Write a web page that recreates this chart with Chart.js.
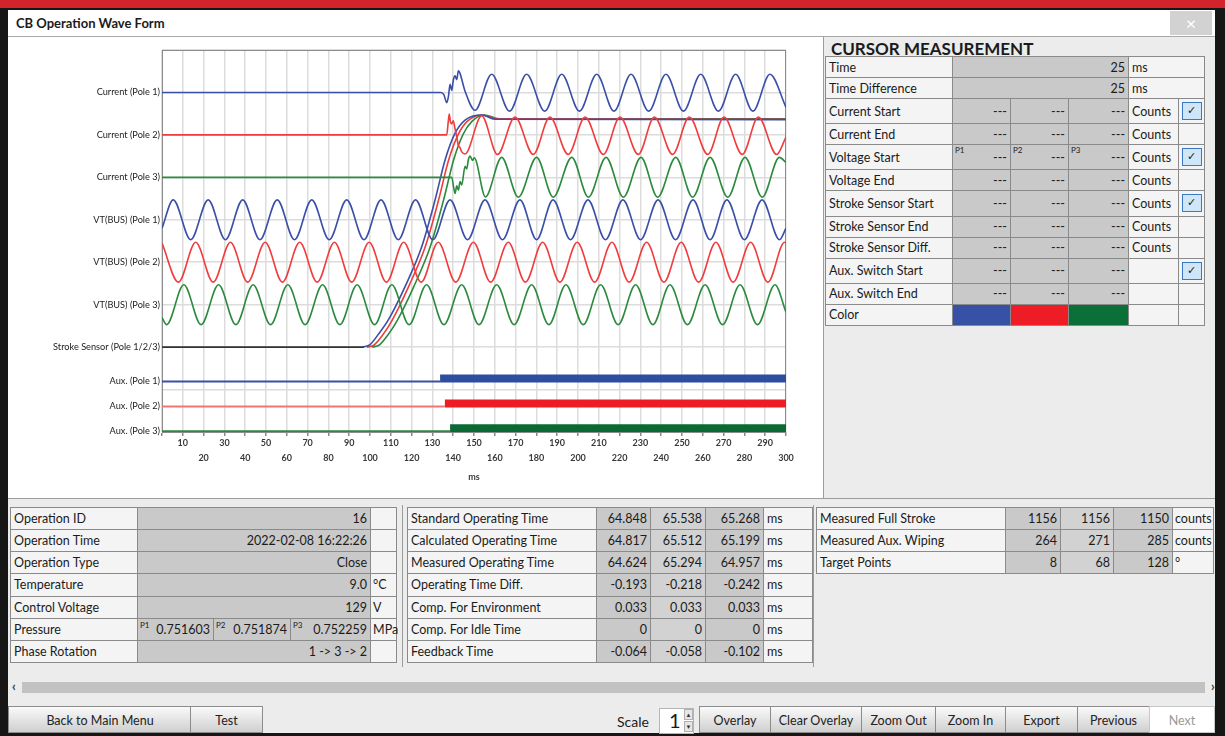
<!DOCTYPE html>
<html>
<head>
<meta charset="utf-8">
<title>CB Operation Wave Form</title>
<script src="https://cdn.jsdelivr.net/npm/chart.js@4.4.1/dist/chart.umd.min.js"></script>
<style>
  body { margin: 0; width: 1225px; height: 736px; overflow: hidden; background: #161616; position: relative;
         font-family: Lato, "Liberation Sans", sans-serif; color: #1b1b1b; }
  .abs { position: absolute; }
  #band { left: 0; top: 0; width: 1225px; height: 8px; background: #d3242b; }
  #win { left: 8px; top: 10px; width: 1207px; height: 723px; background: #ececec; }
  #titlebar { left: 8px; top: 10px; width: 1207px; height: 26px; background: #fff; border-bottom: 1px solid #a9a9a9; }
  #title { left: 16px; top: 15px; font-weight: bold; font-size: 13px; }
  #close { left: 1170px; top: 11px; width: 42px; height: 24px; background: #d2d2d2; color: #fff; font-size: 18px; text-align: center; line-height: 24px; }
  #plotPanel { left: 8px; top: 37px; width: 815px; height: 461px; background: #fff; }
  #vsep { left: 823px; top: 37px; width: 1px; height: 461px; background: #9c9c9c; }
  #hsep { left: 8px; top: 498px; width: 1207px; height: 1px; background: #9c9c9c; }
  #cursorTitle { left: 831px; top: 38px; font-weight: bold; font-size: 17px; }
  table { position: absolute; border-collapse: collapse; table-layout: fixed; font-size: 12.5px; color: #1b1b1b; }
  td { border: 1px solid #8a8a8a; padding: 0 3px; white-space: nowrap; overflow: hidden; background: #f4f4f4; position: relative; }
  td.v { background: #c9c9c9; text-align: right; }
  td.w { background: #d2d2d2; text-align: right; }
  td.c { padding: 0; }
  td.u { padding: 0 0 0 2px; overflow: visible; }
  .p { position: absolute; left: 2px; top: 0px; font-size: 8px; }
  .chk { display: block; width: 18px; height: 16px; margin: 0 auto; background: #cfe6f8; border: 1px solid #3b78c4;
         font: 11px "DejaVu Sans"; text-align: center; line-height: 16px; color: #222; }
  .vsep2 { width: 1px; background: #9c9c9c; top: 505px; height: 162px; }
  #strack { left: 22px; top: 682px; width: 1183px; height: 11px; background: #c2c2c2; }
  .arrow { top: 678px; font-size: 13px; font-weight: bold; color: #333; }
  .btn { top: 706px; height: 27px; background: linear-gradient(#fafafa, #cfcfcf); border: 1px solid #8c8c8c; box-sizing: border-box;
         font-size: 12.5px; text-align: center; line-height: 27px; color: #222; }
  #scaleLbl { left: 617px; top: 713px; font-size: 14px; }
  #spin { left: 659px; top: 708px; width: 35px; height: 26px; background: #fff; border: 1px solid #b5b5b5; box-sizing: border-box; }
  #spinVal { left: 669px; top: 708px; font-size: 20px; }
  .spinArr { left: 684px; width: 9px; height: 11px; background: #e6e6e6; border: 1px solid #b0b0b0; box-sizing: border-box;
             font-size: 6px; line-height: 9px; text-align: center; color: #333; }
</style>
</head>
<body>
<div class="abs" id="band"></div>
<div class="abs" id="win"></div>
<div class="abs" id="titlebar"></div>
<div class="abs" id="title">CB Operation Wave Form</div>
<div class="abs" id="close">×</div>
<div class="abs" id="plotPanel"><canvas id="wave" width="814" height="460"></canvas></div>
<div class="abs" id="vsep"></div>
<div class="abs" id="hsep"></div>
<div class="abs" id="cursorTitle">CURSOR MEASUREMENT</div>
<table id="cursorTable" style="left:825px; top:56px; width:379px; height:270px;"></table>
<table id="opTable" style="left:10px; top:507px; width:386px; height:156px;"></table>
<div class="abs vsep2" style="left:402px;"></div>
<table id="timingTable" style="left:407px; top:507px; width:405px; height:156px;"></table>
<div class="abs vsep2" style="left:813px;"></div>
<table id="strokeTable" style="left:816px; top:507px; width:397px; height:67px;"></table>
<div class="abs" id="strack"></div>
<div class="abs arrow" style="left:12px;">‹</div>
<div class="abs arrow" style="left:1211px;">›</div>
<div id="buttons"></div>
<div class="abs" id="scaleLbl">Scale</div>
<div class="abs" id="spin"></div>
<div class="abs" id="spinVal">1</div>
<div class="abs spinArr" style="top:709px;">▲</div>
<div class="abs spinArr" style="top:721px;">▼</div>

<script>
// y axis channels (top to bottom) and the level each one sits on
const channelNames = ['Current (Pole 1)', 'Current (Pole 2)', 'Current (Pole 3)',
    'VT(BUS) (Pole 1)', 'VT(BUS) (Pole 2)', 'VT(BUS) (Pole 3)',
    'Stroke Sensor (Pole 1/2/3)', 'Aux. (Pole 1)', 'Aux. (Pole 2)', 'Aux. (Pole 3)'];
const channelLevels = [8, 7, 6, 5, 4, 3, 2, 1.19, 0.6, 0.02];

// [ms, deviation from channel level]
const current1 = [[0, 0], [134.1, 0], [135.5, -0.05], [136.9, -0.24], [137.7, -0.1], [138.5, 0.19], [139.3, 0.05], [140.1, 0.3],
    [140.9, 0.39], [141.7, 0.3], [142.5, 0.51], [143.3, 0.45], [144.1, 0.31], [145.7, 0.03], [150.5, -0.42], [158.5, 0.43],
    [167.1, -0.44], [175.3, 0.43], [184, -0.44], [192.2, 0.43], [200.7, -0.44], [209, 0.43], [217.3, -0.44], [225.5, 0.43],
    [234, -0.44], [242.3, 0.43], [250.7, -0.44], [259, 0.43], [267.5, -0.44], [275.8, 0.43], [284.1, -0.44], [292.3, 0.43],
    [300, -0.35]];
const current2 = [[0, 0], [136.9, 0], [137.6, 0.3], [138.1, 0.49], [138.7, 0.3], [139.3, 0.26], [140, 0.33], [140.9, 0.14],
    [141.7, -0.05], [142.5, -0.25], [143.3, -0.3], [144.1, -0.4], [145.7, -0.45], [153.7, 0.45], [161.3, -0.46], [169.7, 0.42],
    [178.5, -0.46], [186.5, 0.42], [195.3, -0.46], [203.4, 0.42], [212.2, -0.46], [220.2, 0.42], [229, -0.46], [236.7, 0.42],
    [245.5, -0.46], [253.5, 0.42], [262.4, -0.46], [270.2, 0.42], [279, -0.46], [286.7, 0.42], [295.5, -0.46], [300, -0.05]];
const current3 = [[0, 0], [139.3, 0], [140.1, -0.2], [140.9, -0.38], [141.7, -0.2], [142.5, -0.3], [143.3, -0.1], [144.1, -0.18],
    [145.7, 0.26], [146.5, 0.2], [147.3, 0.42], [148.1, 0.5], [149.3, 0.4], [150.1, 0.46], [155.5, -0.46], [163.3, 0.47],
    [171.3, -0.47], [180.1, 0.47], [188.1, -0.47], [197, 0.47], [205, -0.47], [213.5, 0.47], [221.8, -0.47], [230.3, 0.47],
    [238.3, -0.47], [247, 0.47], [255.1, -0.47], [263.5, 0.47], [272, -0.47], [280.3, 0.47], [288.6, -0.47], [296.8, 0.47],
    [300, 0.35]];
const vt1 = [[0, -0.2], [5.4, 0.47], [13.8, -0.47], [22.2, 0.47], [30.5, -0.47], [38.8, 0.47], [47.1, -0.47], [55.4, 0.47],
    [63.7, -0.47], [72, 0.47], [80.4, -0.47], [88.8, 0.47], [97.1, -0.47], [105.3, 0.47], [113.6, -0.47], [121.9, 0.47],
    [130.2, -0.47], [138.5, 0.47], [146.9, -0.47], [155.3, 0.47], [163.7, -0.47], [172.1, 0.47], [180.1, -0.47], [188, 0.47],
    [196.4, -0.47], [204.8, 0.47], [213.2, -0.47], [221.6, 0.47], [230.1, -0.47], [238.5, 0.47], [246.9, -0.47], [255.3, 0.47],
    [263.5, -0.47], [271.6, 0.47], [280, -0.47], [288.5, 0.47], [296.9, -0.47], [300, -0.2]];
const vt2 = [[0, 0.45], [7.9, -0.47], [16.2, 0.47], [24.6, -0.47], [32.9, 0.47], [41.2, -0.47], [49.6, 0.47], [57.9, -0.47],
    [66.2, 0.47], [74.6, -0.47], [82.9, 0.47], [91.2, -0.47], [99.6, 0.47], [107.9, -0.47], [116.2, 0.47], [124.6, -0.47],
    [132.8, 0.47], [141.2, -0.47], [149.7, 0.47], [158, -0.47], [166.5, 0.47], [174.7, -0.47], [183, 0.47], [191.3, -0.47],
    [199.6, 0.47], [208, -0.47], [216.3, 0.47], [224.6, -0.47], [233, 0.47], [241.3, -0.47], [249.6, 0.47], [258, -0.47],
    [266.3, 0.47], [274.6, -0.47], [283, 0.47], [291.3, -0.47], [299.3, 0.47], [300, 0.46]];
const vt3 = [[0, -0.3], [2.2, -0.47], [10.5, 0.47], [18.8, -0.47], [27.2, 0.47], [35.5, -0.47], [43.8, 0.47], [52.2, -0.47],
    [60.5, 0.47], [68.8, -0.47], [77.2, 0.47], [85.5, -0.47], [93.8, 0.47], [102.2, -0.47], [110.5, 0.47], [118.8, -0.47],
    [127.2, 0.47], [135.5, -0.47], [144.1, 0.47], [152.4, -0.47], [160.9, 0.47], [169.3, -0.47], [177.7, 0.47], [186, -0.47],
    [194.2, 0.47], [202.5, -0.47], [210.9, 0.47], [219.3, -0.47], [227.7, 0.47], [236, -0.47], [244.2, 0.47], [252.6, -0.47],
    [261.1, 0.47], [269.5, -0.47], [277.9, 0.47], [286.3, -0.47], [294.7, 0.47], [300, -0.18]];
const strokeIdle = [[0, 0], [97, 0]];
const stroke1 = [[96.5, 0], [100, 0.06], [104, 0.3], [108.8, 0.64], [116.8, 1.42], [124.9, 2.37], [131.3, 3.47], [136.1, 4.41],
    [140.9, 5.04], [145.7, 5.35], [153.7, 5.47], [160, 5.37], [300, 5.36]];
const stroke2 = [[98.5, 0], [102, 0.05], [106, 0.28], [110.5, 0.62], [118.5, 1.42], [126.6, 2.37], [133, 3.47], [137.8, 4.41],
    [142.5, 5.02], [147, 5.33], [154, 5.47], [161, 5.38], [300, 5.37]];
const stroke3 = [[101, 0], [104.5, 0.05], [108.5, 0.28], [113, 0.62], [121, 1.42], [129, 2.37], [135.4, 3.47], [140.2, 4.41],
    [144.8, 5.02], [149, 5.32], [155, 5.47], [162, 5.38], [300, 5.38]];
const auxCloseTimes = [133.7, 136.0, 138.5]; // ms at which each aux contact switches

const poleColors = ['#3a4fa8', '#f03c3c', '#2b8a3e'];
const auxColors = ['#2f4d9f', '#ee1c24', '#0b6a34'];
const auxIdleColors = ['#3a4fa8', '#f27474', '#2b8a3e'];
const swatchColors = ['#3651a5', '#ee1c25', '#0a7038'];

// tables
const cursorLabels = ['Time', 'Time Difference', 'Current Start', 'Current End', 'Voltage Start', 'Voltage End',
    'Stroke Sensor Start', 'Stroke Sensor End', 'Stroke Sensor Diff.', 'Aux. Switch Start', 'Aux. Switch End', 'Color'];
const cursorUnits = ['ms', 'ms', 'Counts', 'Counts', 'Counts', 'Counts', 'Counts', 'Counts', 'Counts', '', '', ''];
const cursorChecked = [false, false, true, false, true, false, true, false, false, true, false, false];
const cursorTime = ['25', '25'];

const opLabels = ['Operation ID', 'Operation Time', 'Operation Type', 'Temperature', 'Control Voltage', 'Pressure', 'Phase Rotation'];
const opValues = ['16', '2022-02-08 16:22:26', 'Close', '9.0', '129', null, '1 -&gt; 3 -&gt; 2'];
const opUnits = ['', '', '', '°C', 'V', 'MPa', ''];
const pressure = ['0.751603', '0.751874', '0.752259'];

const timingLabels = ['Standard Operating Time', 'Calculated Operating Time', 'Measured Operating Time',
    'Operating Time Diff.', 'Comp. For Environment', 'Comp. For Idle Time', 'Feedback Time'];
const timingP1 = ['64.848', '64.817', '64.624', '-0.193', '0.033', '0', '-0.064'];
const timingP2 = ['65.538', '65.512', '65.294', '-0.218', '0.033', '0', '-0.058'];
const timingP3 = ['65.268', '65.199', '64.957', '-0.242', '0.033', '0', '-0.102'];

const strokeLabels = ['Measured Full Stroke', 'Measured Aux. Wiping', 'Target Points'];
const strokeP1 = ['1156', '264', '8'];
const strokeP2 = ['1156', '271', '68'];
const strokeP3 = ['1150', '285', '128'];
const strokeUnits = ['counts', 'counts', '°'];

const buttons = [['Back to Main Menu', 8, 184], ['Test', 190, 73], ['Overlay', 699, 72], ['Clear Overlay', 770, 92],
    ['Zoom Out', 861, 75], ['Zoom In', 935, 71], ['Export', 1005, 73], ['Previous', 1077, 73], ['Next', 1149, 66]];

function td(text, cls, span) {
    return '<td' + (cls ? ' class="' + cls + '"' : '') + (span ? ' colspan="' + span + '"' : '') + '>' + text + '</td>';
}

function colgroup(widths) {
    return '<colgroup>' + widths.map(w => '<col style="width:' + w + 'px">').join('') + '</colgroup>';
}

function buildTables() {
    let html = colgroup([127, 58, 58, 60, 50, 26]);
    cursorLabels.forEach((label, i) => {
        let row = td(label);
        if (i < 2) {
            row += td(cursorTime[i], 'v', 3) + td(cursorUnits[i], '', 2);
        } else if (label === 'Color') {
            row += swatchColors.map(c => '<td style="background:' + c + '"></td>').join('') + td('') + td('');
        } else {
            row += [0, 1, 2].map(p => td((i === 4 ? '<span class="p">P' + (p + 1) + '</span>' : '') + '---', 'v')).join('');
            row += td(cursorUnits[i]) + td(cursorChecked[i] ? '<span class="chk">✓</span>' : '', 'c');
        }
        html += '<tr>' + row + '</tr>';
    });
    document.getElementById('cursorTable').innerHTML = html;

    html = colgroup([127, 76, 77, 80, 26]);
    opLabels.forEach((label, i) => {
        let row = td(label);
        if (opValues[i] === null) {
            row += pressure.map((v, p) => td('<span class="p" style="top:1px">P' + (p + 1) + '</span>' + v, 'v')).join('');
        } else {
            row += td(opValues[i], 'v', 3);
        }
        html += '<tr>' + row + td(opUnits[i], 'u') + '</tr>';
    });
    document.getElementById('opTable').innerHTML = html;

    html = colgroup([189, 54, 55, 58, 49]);
    timingLabels.forEach((label, i) => {
        html += '<tr>' + td(label) + td(timingP1[i], 'v') + td(timingP2[i], 'w') + td(timingP3[i], 'v') + td('ms') + '</tr>';
    });
    document.getElementById('timingTable').innerHTML = html;

    html = colgroup([189, 55, 53, 59, 41]);
    strokeLabels.forEach((label, i) => {
        html += '<tr>' + td(label) + td(strokeP1[i], 'v') + td(strokeP2[i], 'w') + td(strokeP3[i], 'v') + td(strokeUnits[i], 'u') + '</tr>';
    });
    document.getElementById('strokeTable').innerHTML = html;

    document.getElementById('buttons').innerHTML = buttons.map(([text, left, width]) => {
        const extra = text === 'Next' ? 'background:#fff;color:#9a9a9a;border-color:#c8c8c8;' : '';
        return '<div class="abs btn" style="left:' + left + 'px;width:' + width + 'px;' + extra + '">' + text + '</div>';
    }).join('');
}

function channel(points, level, color, width) {
    return {
        data: points.map(p => ({ x: p[0], y: level + p[1] })),
        borderColor: color,
        borderWidth: width || 1.6,
        pointRadius: 0,
        cubicInterpolationMode: 'monotone',
        fill: false
    };
}

function auxDatasets(i) {
    const level = channelLevels[7 + i];
    const t = auxCloseTimes[i];
    return [
        { data: [{ x: 0, y: level }, { x: t, y: level }], borderColor: auxIdleColors[i], borderWidth: 2, pointRadius: 0, borderCapStyle: 'butt' },
        { data: [{ x: t, y: level + 0.07 }, { x: 300, y: level + 0.07 }], borderColor: auxColors[i], borderWidth: 8, pointRadius: 0, borderCapStyle: 'butt' }
    ];
}

const plotFrame = {
    id: 'plotFrame',
    beforeDatasetsDraw(chart) {
        const { ctx, chartArea: a } = chart;
        ctx.save();
        ctx.strokeStyle = '#8c8c8c';
        ctx.lineWidth = 1;
        ctx.strokeRect(a.left + 0.5, a.top + 0.5, a.right - a.left - 1, a.bottom - a.top);
        ctx.restore();
    }
};

function renderWaveChart() {
    const ctx = document.getElementById('wave').getContext('2d');
    const datasets = [
        ...auxDatasets(0), ...auxDatasets(1), ...auxDatasets(2),
        channel(current1, channelLevels[0], poleColors[0]),
        channel(current2, channelLevels[1], poleColors[1]),
        channel(current3, channelLevels[2], poleColors[2]),
        channel(vt1, channelLevels[3], poleColors[0]),
        channel(vt2, channelLevels[4], poleColors[1]),
        channel(vt3, channelLevels[5], poleColors[2]),
        channel(strokeIdle, channelLevels[6], '#333333'),
        channel(stroke1, channelLevels[6], poleColors[0]),
        channel(stroke2, channelLevels[6], poleColors[1]),
        channel(stroke3, channelLevels[6], poleColors[2])
    ];

    new Chart(ctx, {
        type: 'line',
        data: { datasets: datasets },
        plugins: [plotFrame],
        options: {
            responsive: false,
            animation: false,
            events: [],
            layout: { padding: { top: 13, left: 0, right: 0, bottom: 0 } },
            plugins: { legend: { display: false }, tooltip: { enabled: false } },
            scales: {
                x: {
                    type: 'linear',
                    min: 0,
                    max: 300,
                    afterFit: s => { s.height = 65; },
                    ticks: {
                        stepSize: 10,
                        autoSkip: false,
                        maxRotation: 0,
                        padding: 0,
                        color: '#3a3a3a',
                        font: { family: 'Lato', size: 9, weight: 'bold', lineHeight: 1.65 },
                        callback: v => v === 0 ? '' : (v / 10) % 2 === 1 ? [String(v), ''] : ['', String(v)]
                    },
                    grid: { color: '#dcdcdc', lineWidth: 1.5, tickLength: 4, tickColor: '#8a8a8a' },
                    border: { color: '#8a8a8a' },
                    title: { display: true, text: 'ms', color: '#3a3a3a', font: { family: 'Lato', size: 9, weight: 'bold' }, padding: { top: 0, bottom: 15 } }
                },
                y: {
                    min: 0,
                    max: 9,
                    afterFit: s => { s.width = 154; },
                    afterBuildTicks: s => { s.ticks = channelLevels.map(v => ({ value: v })); },
                    ticks: {
                        padding: 2,
                        color: '#222',
                        font: { family: 'Lato', size: 9.2 },
                        callback: v => channelNames[channelLevels.indexOf(v)]
                    },
                    grid: { display: false, drawTicks: false },
                    border: { color: '#8a8a8a' }
                },
                y2: {
                    position: 'right',
                    min: 0,
                    max: 9,
                    afterFit: s => { s.width = 36; },
                    ticks: { display: false, stepSize: 1 },
                    grid: { color: '#dcdcdc', lineWidth: 1.5, drawTicks: false },
                    border: { display: false }
                }
            }
        }
    });
}

buildTables();
renderWaveChart();
</script>
</body>
</html>
